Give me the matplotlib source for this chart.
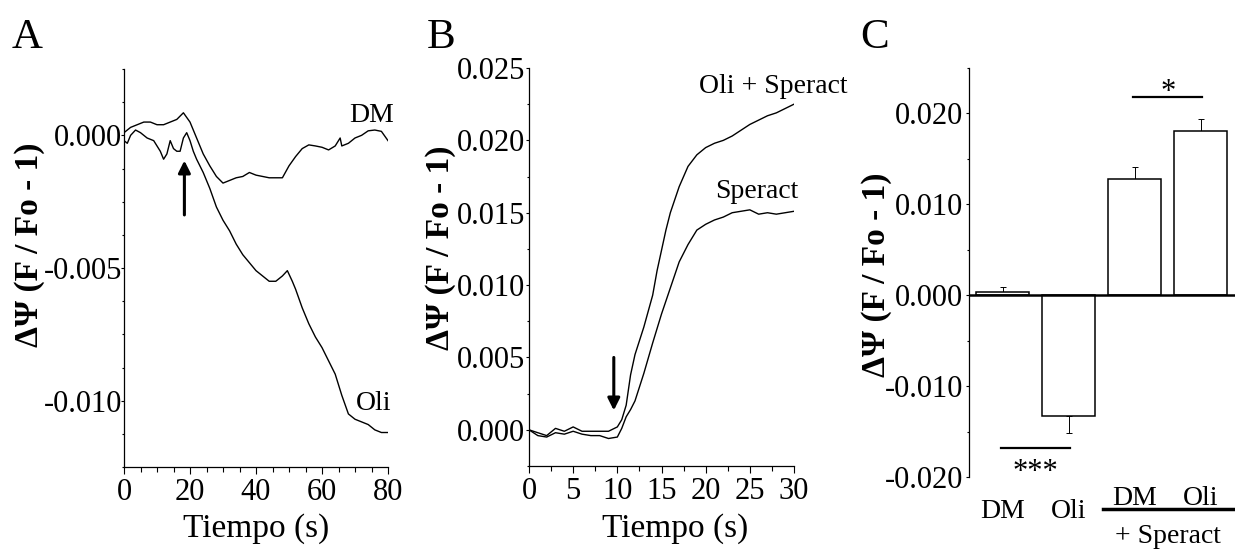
import numpy as np
import matplotlib
matplotlib.use('Agg')
import matplotlib.pyplot as plt
from matplotlib.ticker import MultipleLocator, FormatStrFormatter

plt.rcParams['font.family'] = ['Liberation Serif', 'DejaVu Serif']
plt.rcParams['axes.unicode_minus'] = False

# ---- panel A: DM vs Oli traces (0-80 s) ----
dm_t = [0, 2, 4, 6, 8, 10, 12, 14, 16, 18, 20, 22, 24, 26, 28, 30, 32, 34, 36, 38,
        40, 42, 44, 46, 48, 50, 52, 54, 56, 58, 60, 62, 64, 65.5, 66, 68, 70, 72,
        74, 76, 78, 80]
dm_y = [0.0001, 0.0003, 0.0004, 0.0005, 0.0005, 0.0004, 0.0004, 0.0005, 0.0006,
        0.00085, 0.0005, -0.0001, -0.0007, -0.00115, -0.00155, -0.0018, -0.0017,
        -0.0016, -0.00155, -0.0014, -0.0015, -0.00155, -0.0016, -0.0016, -0.0016,
        -0.00115, -0.0008, -0.0005, -0.00036, -0.0004, -0.00045, -0.00055,
        -0.0004, -0.0001, -0.0004, -0.0003, -0.0001, 0.0, 0.00017, 0.0002,
        0.00015, -0.0002]

oli_t = [0, 1, 2, 3.5, 5, 7, 9, 11, 12, 13, 14, 15, 16, 17, 18, 19, 20, 21, 22,
         24, 26, 28, 30, 32, 34, 36, 38, 40, 42, 44, 46, 48, 49.5, 51, 52, 54,
         56, 58, 60, 62, 64, 66, 68, 70, 72, 74, 76, 78, 80]
oli_y = [-0.0002, -0.0003, 0.0, 0.0002, 0.0001, -0.0001, -0.0002, -0.0006,
         -0.0009, -0.0007, -0.0002, -0.0005, -0.0006, -0.0006, -0.0001, 0.0001,
         -0.0002, -0.0006, -0.0009, -0.0014, -0.0020, -0.0027, -0.0032, -0.0036,
         -0.0041, -0.0045, -0.0048, -0.0051, -0.0053, -0.0055, -0.0055, -0.0053,
         -0.0051, -0.0055, -0.0058, -0.0065, -0.0071, -0.0076, -0.0080, -0.0085,
         -0.0090, -0.0098, -0.0105, -0.0107, -0.0108, -0.0109, -0.0111, -0.0112,
         -0.0112]

# ---- panel B: Speract vs Oli + Speract (0-30 s) ----
b_t = [0, 1, 2, 3, 4, 5, 6, 7, 8, 9, 10, 10.5, 11, 11.5, 12, 13, 14, 14.5, 15,
       15.5, 16, 17, 18, 19, 20, 21, 22, 23, 24, 25, 26, 27, 28, 29, 30]
olisp_y = [0.0, -0.0002, -0.0004, 0.0001, -0.0001, 0.0002, -0.0001, -0.0001,
           -0.0001, -0.0001, 0.0002, 0.0007, 0.0017, 0.0038, 0.0052, 0.0071,
           0.0093, 0.0110, 0.0124, 0.0138, 0.0150, 0.0168, 0.0182, 0.0190,
           0.0195, 0.0198, 0.0200, 0.0203, 0.0207, 0.0211, 0.0214, 0.0217,
           0.0219, 0.0222, 0.0225]
sp_y = [0.0, -0.0004, -0.0005, -0.0002, -0.0003, -0.0001, -0.0003, -0.0004,
        -0.0004, -0.0006, -0.0005, 0.0001, 0.0009, 0.0014, 0.0020, 0.0039,
        0.0060, 0.0070, 0.0080, 0.0089, 0.0098, 0.0116, 0.0128, 0.0138, 0.0142,
        0.0145, 0.0147, 0.0150, 0.0151, 0.0152, 0.0149, 0.0150, 0.0149, 0.0150,
        0.0151]

# ---- panel C: bar means and SEM ----
c_labels = ['DM', 'Oli', 'DM', 'Oli']
c_means = [0.0003, -0.0133, 0.0128, 0.0181]
c_sem = [0.0006, 0.0019, 0.0013, 0.0013]

W, H = 1235, 552
fig = plt.figure(figsize=(W / 100, H / 100), dpi=100)


def box(l, t, r, b):
    return [l / W, 1 - b / H, (r - l) / W, (b - t) / H]


def fx(px):
    return px / W


def fy(py):
    return 1 - py / H


TICK = 22
ANN = 20
XLAB = 24
YLAB = 24
PANEL = 31


def style(ax, ypad):
    for s in ['top', 'right']:
        ax.spines[s].set_visible(False)
    for s in ['left', 'bottom']:
        ax.spines[s].set_linewidth(0.9)
    ax.tick_params(axis='x', which='major', direction='out', length=5, width=0.8,
                   labelsize=TICK, pad=3)
    ax.tick_params(axis='x', which='minor', direction='out', length=3.5, width=0.8)
    ax.tick_params(axis='y', which='major', direction='out', length=2.5, width=0.8,
                   labelsize=TICK, pad=ypad)
    ax.tick_params(axis='y', which='minor', direction='out', length=1.8, width=0.8)
    ax.yaxis.set_major_formatter(FormatStrFormatter('%.3f'))


# ---------------- A ----------------
axA = fig.add_axes(box(124, 69, 388, 467))
axA.plot(dm_t, dm_y, color='black', lw=1.0)
axA.plot(oli_t, oli_y, color='black', lw=1.0)
axA.set_xlim(0, 80)
axA.set_ylim(-0.0125, 0.0025)
axA.set_xticks([0, 20, 40, 60, 80])
axA.xaxis.set_minor_locator(MultipleLocator(5))
axA.set_yticks([-0.010, -0.005, 0.0])
axA.yaxis.set_minor_locator(MultipleLocator(0.00125))
style(axA, -1)
axA.text(74.9, 0.00051, 'DM', fontsize=ANN, ha='center', va='baseline')
axA.text(75.8, -0.01035, 'Oli', fontsize=ANN, ha='center', va='baseline')
axA.annotate('', xy=(18.3, -0.00095), xytext=(18.3, -0.0030),
             arrowprops=dict(arrowstyle='-|>', lw=2.2, color='black',
                             mutation_scale=18, shrinkA=0, shrinkB=0))

# ---------------- B ----------------
axB = fig.add_axes(box(529, 68, 794, 466))
axB.plot(b_t, olisp_y, color='black', lw=1.0)
axB.plot(b_t, sp_y, color='black', lw=1.0)
axB.set_xlim(0, 30)
axB.set_ylim(-0.0025, 0.025)
axB.set_xticks([0, 5, 10, 15, 20, 25, 30])
axB.xaxis.set_minor_locator(MultipleLocator(2.5))
axB.set_yticks([0.0, 0.005, 0.010, 0.015, 0.020, 0.025])
axB.yaxis.set_minor_locator(MultipleLocator(0.0025))
style(axB, 0.5)
axB.text(27.6, 0.02325, 'Oli + Speract', fontsize=ANN, ha='center',
         va='baseline', clip_on=False)
axB.text(25.8, 0.01603, 'Speract', fontsize=ANN, ha='center', va='baseline')
axB.annotate('', xy=(9.6, 0.00134), xytext=(9.6, 0.0050),
             arrowprops=dict(arrowstyle='-|>', lw=2.2, color='black',
                             mutation_scale=18, shrinkA=0, shrinkB=0))

# ---------------- C ----------------
axC = fig.add_axes(box(969, 68, 1235, 477))
pos = np.arange(len(c_means))
means = np.array(c_means)
sem = np.array(c_sem)
lower = np.where(means < 0, sem, 0)
upper = np.where(means >= 0, sem, 0)
axC.bar(pos, means, width=0.8, color='white', edgecolor='black', lw=1.1, zorder=2)
axC.errorbar(pos, means, yerr=[lower, upper], fmt='none', ecolor='black',
             elinewidth=0.7, capsize=2, capthick=0.7, zorder=1)
axC.axhline(0, color='black', lw=1.8, zorder=3)
axC.set_xlim(-0.508, 3.52)
axC.set_ylim(-0.020, 0.025)
axC.set_xticks([])
axC.set_yticks([-0.020, -0.010, 0.0, 0.010, 0.020])
axC.yaxis.set_minor_locator(MultipleLocator(0.005))
style(axC, 1.5)
axC.spines['bottom'].set_visible(False)

# significance marks
axC.plot([-0.02, 1.02], [-0.0168, -0.0168], color='black', lw=1.6, clip_on=False)
axC.text(0.5, -0.0203, '***', fontsize=22, ha='center', va='baseline')
axC.plot([1.98, 3.02], [0.0218, 0.0218], color='black', lw=1.6, clip_on=False)
axC.text(2.5, 0.02148, '*', fontsize=22, ha='center', va='baseline')

# group labels under the bars
axC.text(pos[0], -0.02453, c_labels[0], fontsize=ANN, ha='center', va='baseline')
axC.text(pos[1], -0.02453, c_labels[1], fontsize=ANN, ha='center', va='baseline')
axC.text(pos[2], -0.02307, c_labels[2], fontsize=ANN, ha='center', va='baseline')
axC.text(pos[3], -0.02307, c_labels[3], fontsize=ANN, ha='center', va='baseline')
axC.plot([1.52, 3.49], [-0.0235, -0.0235], color='black', lw=2.5, clip_on=False)
axC.text(2.5, -0.02725, '+ Speract', fontsize=ANN, ha='center', va='baseline')

# ---------------- labels ----------------
ylab = 'ΔΨ (F / Fo - 1)'
fig.text(fx(30), fy(245), ylab, rotation=90, fontsize=YLAB, fontweight='bold',
         ha='center', va='center')
fig.text(fx(441), fy(248), ylab, rotation=90, fontsize=YLAB, fontweight='bold',
         ha='center', va='center')
fig.text(fx(876), fy(275), ylab, rotation=90, fontsize=YLAB, fontweight='bold',
         ha='center', va='center')

fig.text(fx(256.5), fy(537), 'Tiempo (s)', fontsize=XLAB, ha='center', va='baseline')
fig.text(fx(675), fy(537), 'Tiempo (s)', fontsize=XLAB, ha='center', va='baseline')

fig.text(fx(12), fy(48), 'A', fontsize=PANEL, ha='left', va='baseline')
fig.text(fx(427), fy(48), 'B', fontsize=PANEL, ha='left', va='baseline')
fig.text(fx(860), fy(48), 'C', fontsize=PANEL, ha='left', va='baseline')

fig.savefig('out.png', dpi=100)
